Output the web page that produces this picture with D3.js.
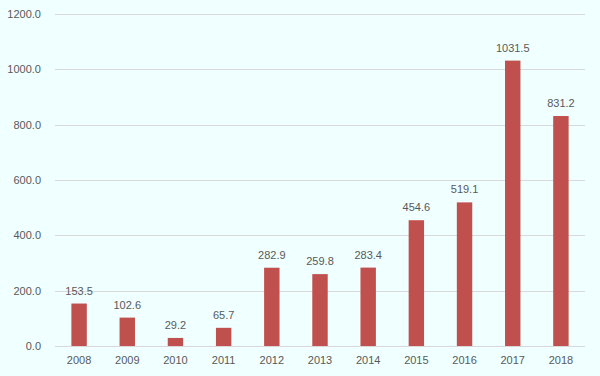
<!DOCTYPE html>
<html>
<head>
<meta charset="utf-8">
<script src="https://cdn.jsdelivr.net/npm/d3@7"></script>
<style>
  html, body { margin: 0; padding: 0; background: #f0ffff; }
  svg { display: block; }
  text { font-family: "Liberation Sans", Arial, sans-serif; fill: #595959; }
</style>
</head>
<body>
<div id="chart"></div>
<script>
// data
var years = ["2008","2009","2010","2011","2012","2013","2014","2015","2016","2017","2018"];
var values = [153.5, 102.6, 29.2, 65.7, 282.9, 259.8, 283.4, 454.6, 519.1, 1031.5, 831.2];
var yTicks = [0, 200, 400, 600, 800, 1000, 1200];

var width = 600, height = 376;
var margin = {left: 55, right: 15, top: 14, bottom: 30};

var svg = d3.select("#chart").append("svg")
    .attr("width", width).attr("height", height);

svg.append("rect").attr("width", width).attr("height", height).attr("fill", "#f0ffff");

var x = d3.scaleBand()
    .domain(years)
    .range([margin.left, width - margin.right])
    .paddingInner(0.68)
    .paddingOuter(0.34);

var y = d3.scaleLinear()
    .domain([0, 1200])
    .range([height - margin.bottom, margin.top]);

// gridlines
svg.append("g").selectAll("line")
    .data(yTicks)
    .enter().append("line")
    .attr("x1", margin.left)
    .attr("x2", width - margin.right)
    .attr("y1", function(d){ return Math.round(y(d)) + 0.5; })
    .attr("y2", function(d){ return Math.round(y(d)) + 0.5; })
    .attr("stroke", "#d9d9d9")
    .attr("stroke-width", 1);

// y axis labels
var yAxis = d3.axisLeft(y).tickValues(yTicks).tickSize(0).tickPadding(14)
    .tickFormat(d3.format(".1f"));
var yg = svg.append("g")
    .attr("transform", "translate(" + margin.left + ",0)")
    .call(yAxis);
yg.select(".domain").remove();
yg.selectAll("text").style("font-size", "11px").attr("fill", "#595959");

// x axis labels
var xAxis = d3.axisBottom(x).tickSize(0).tickPadding(10);
var xg = svg.append("g")
    .attr("transform", "translate(0," + y(0) + ")")
    .call(xAxis);
xg.select(".domain").remove();
xg.selectAll("text").style("font-size", "11px").attr("fill", "#595959");

// bars
svg.append("g").selectAll("rect")
    .data(values)
    .enter().append("rect")
    .attr("x", function(d, i){ return x(years[i]); })
    .attr("y", function(d){ return y(d); })
    .attr("width", x.bandwidth())
    .attr("height", function(d){ return y(0) - y(d); })
    .attr("fill", "#c0504d");

// value labels
svg.append("g").selectAll("text")
    .data(values)
    .enter().append("text")
    .attr("x", function(d, i){ return x(years[i]) + x.bandwidth() / 2; })
    .attr("y", function(d){ return y(d) - 9; })
    .attr("text-anchor", "middle")
    .style("font-size", "11px")
    .text(function(d){ return d3.format(".1f")(d); });
</script>
</body>
</html>
